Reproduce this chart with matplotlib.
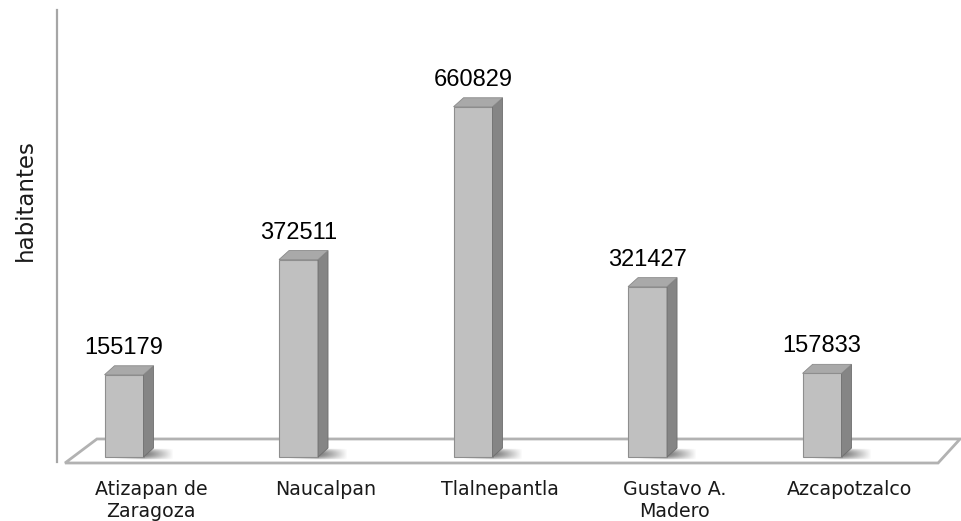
import matplotlib
matplotlib.use("Agg")
import matplotlib.pyplot as plt
from matplotlib.patches import Polygon
from matplotlib.transforms import ScaledTranslation
import numpy as np

# data
municipios = ["Atizapan de\nZaragoza", "Naucalpan", "Tlalnepantla", "Gustavo A.\nMadero", "Azcapotzalco"]
habitantes = [155179, 372511, 660829, 321427, 157833]

W, H = 962, 521
fig = plt.figure(figsize=(W / 100, H / 100), dpi=100)
# axes box in pixels: left 57, right 962, top 10, bottom 462
ax = fig.add_axes([57 / W, (H - 462) / H, (962 - 57) / W, (462 - 10) / H])

ax.set_xlim(-0.384, 4.802)
ax.set_ylim(-9434, 843400)

# pixel -> data helpers (depth of the fake 3d)
xpx = (4.802 + 0.384) / 905
ypx = (843400 + 9434) / 452
dx = 10 * xpx
dy = 9 * ypx
w = 39 * xpx

x = list(range(len(habitantes)))

# floor
floor = Polygon([(-0.338, -11300), (-0.155, 34000), (4.791, 34000), (4.665, -11300)],
                closed=True, facecolor="white", edgecolor="#b2b2b2", lw=2.0,
                joinstyle="miter", clip_on=False, zorder=1)
ax.add_patch(floor)

# soft shadow around each bar base (darker on the right)
gx = np.linspace(-1, 1, 60)
gy = np.linspace(-1, 1, 14)
GX, GY = np.meshgrid(gx, gy)
alpha = 0.75 * np.clip(1 - np.abs(GX) ** 1.2, 0, 1) * (1 - GY ** 2) ** 0.8
img = np.zeros((len(gy), len(gx), 4))
img[..., :3] = 0.3
img[..., 3] = alpha
for xi in x:
    r = xi + w / 2
    ax.imshow(img, extent=(r - 30 * xpx, r + 30 * xpx, -3 * ypx, 8 * ypx), origin="lower",
              interpolation="bilinear", zorder=2)
ax.set_aspect("auto")
ax.set_xlim(-0.384, 4.802)
ax.set_ylim(-9434, 843400)

# front faces
ax.bar(x, habitantes, width=w, color="#c0c0c0", edgecolor="#8e8e8e", lw=0.8, zorder=3)

for xi, v in zip(x, habitantes):
    r = xi + w / 2
    l = xi - w / 2
    side = Polygon([(r, 0), (r + dx, dy), (r + dx, v + dy), (r, v)], closed=True,
                   facecolor="#858585", edgecolor="#6e6e6e", lw=0.6, zorder=3)
    top = Polygon([(l, v), (l + dx, v + dy), (r + dx, v + dy), (r, v)], closed=True,
                  facecolor="#a9a9a9", edgecolor="#8a8a8a", lw=0.6, zorder=3)
    ax.add_patch(side)
    ax.add_patch(top)
    ax.annotate(str(v), (xi, v + dy), xytext=(0, 5), textcoords="offset points",
                ha="center", va="bottom", fontsize=17, family="Liberation Sans",
                color="#000000")

ax.set_xticks(x)
ax.set_xticklabels(municipios, fontsize=13.7, family="DejaVu Sans", color="#1a1a1a",
                   multialignment="center", linespacing=1.2)
ax.tick_params(axis="x", length=0, pad=13)
# category labels sit on the front edge of the floor, shifted right
shift = ScaledTranslation(27 / 100, 0, fig.dpi_scale_trans)
for lab in ax.get_xticklabels():
    lab.set_transform(lab.get_transform() + shift)
ax.set_yticks([])

for s in ["top", "right", "bottom"]:
    ax.spines[s].set_visible(False)
ax.spines["left"].set_color("#a6a6a6")
ax.spines["left"].set_linewidth(1.6)
ax.patch.set_alpha(0)

fig.text(25 / W, 1 - 200 / H, "habitantes", rotation=90, ha="center", va="center",
         fontsize=16.5, family="DejaVu Sans", color="#1a1a1a")

fig.savefig("out.png", dpi=100)
